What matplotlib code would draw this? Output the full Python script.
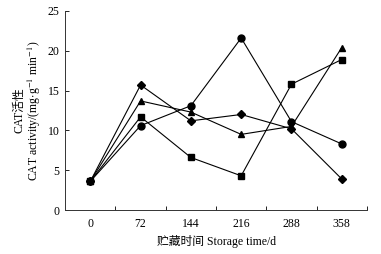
import matplotlib
matplotlib.use("Agg")
import matplotlib.pyplot as plt
import numpy as np

plt.rcParams['font.family'] = ['Liberation Serif', 'Noto Sans CJK SC']
plt.rcParams['mathtext.fontset'] = 'stix'

#storage time categories
days = ['0', '72', '144', '216', '288', '358']
#CAT activity of the four treatments
circle_vals = [3.6, 10.6, 13.1, 21.6, 11.1, 8.3]
square_vals = [3.6, 11.7, 6.6, 4.3, 15.8, 18.9]
triangle_vals = [3.6, 13.7, 12.3, 9.5, 10.5, 20.4]
diamond_vals = [3.6, 15.7, 11.2, 12.0, 10.2, 3.9]

fig = plt.figure(figsize=(3.81, 2.54), dpi=100)
ax = fig.add_axes([0.171, 0.173, 0.792, 0.784])

x = np.arange(len(days))
series = [(square_vals, 's', 4.5), (triangle_vals, '^', 5), (diamond_vals, 'D', 4), (circle_vals, 'o', 5)]
for vals, m, ms in series:
    ax.plot(x, vals, color='black', linewidth=0.8, marker=m, markersize=ms)

ax.set_xlim(-0.5, len(days) - 0.5)
ax.set_ylim(0, 25)
ax.set_yticks([0, 5, 10, 15, 20, 25])
ax.set_xticks(x)
ax.set_xticklabels(days)
ax.set_xticks(x + 0.5, minor=True)
ax.tick_params(axis='x', which='major', length=0, labelsize=8.5, pad=6)
ax.tick_params(axis='x', which='minor', direction='in', length=3, width=0.6)
ax.tick_params(axis='y', direction='in', length=3, width=0.6, labelsize=8.5, pad=4)

for s in ['top', 'right']:
    ax.spines[s].set_visible(False)
for s in ['left', 'bottom']:
    ax.spines[s].set_linewidth(0.7)
    ax.spines[s].set_color('#333333')

ax.set_xlabel('贮藏时间 Storage time/d', fontsize=8.5, labelpad=3)
fig.text(0.050, 0.565, 'CAT活性', rotation=90, fontsize=8.5, ha='center', va='center')
fig.text(0.091, 0.565, r'CAT activity/(mg$\cdot$g$^{-1}$ min$^{-1}$)', rotation=90, fontsize=8.5,
         ha='center', va='center')

fig.savefig('out.png', dpi=100)
